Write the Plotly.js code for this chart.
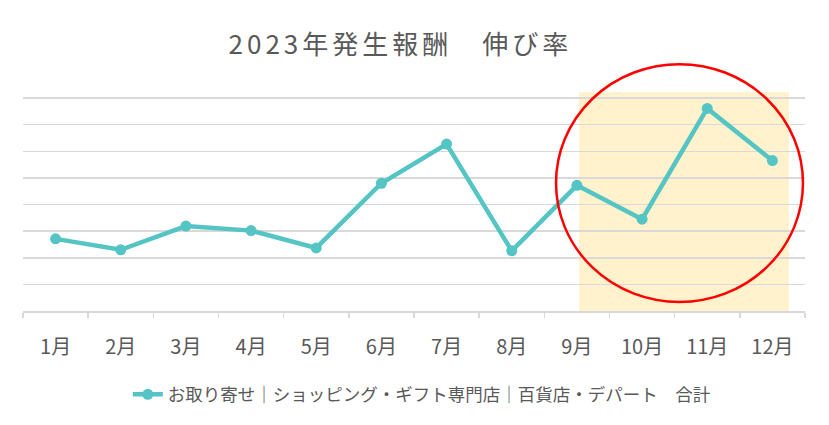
<!DOCTYPE html>
<html>
<head>
<meta charset="utf-8">
<script src="https://cdn.plot.ly/plotly-3.0.1.min.js"></script>
<style>html,body{margin:0;padding:0;background:#fff}#plot{width:829px;height:425px}
.gtitle{letter-spacing:4px}</style>
</head>
<body>
<div id="plot"></div>
<script>
// 月ごとの伸び率（目盛りなしのため画像から読み取り）
var months = ["1月","2月","3月","4月","5月","6月","7月","8月","9月","10月","11月","12月"];
var growth = [2.71, 2.30, 3.19, 3.02, 2.37, 4.80, 6.27, 2.26, 4.72, 3.45, 7.61, 5.65];
var seriesName = "お取り寄せ｜ショッピング・ギフト専門店｜百貨店・デパート　合計";

var trace1 = {
  x: months,
  y: growth,
  name: seriesName,
  type: "scatter",
  mode: "lines+markers",
  line: {color: "#55C4C4", width: 4.5},
  marker: {color: "#55C4C4", size: 11},
  showlegend: true
};

var layout = {
  width: 829,
  height: 425,
  margin: {l: 23, r: 24, t: 97, b: 112},
  paper_bgcolor: "#fff",
  plot_bgcolor: "rgba(0,0,0,0)",
  font: {family: "'Noto Sans CJK JP', 'Noto Sans', sans-serif", color: "#595959", size: 16},
  title: {
    text: "2023年発生報酬　伸び率",
    x: 0.483, xanchor: "center",
    y: 0.894, yanchor: "middle",
    font: {size: 26, color: "#595959"}
  },
  xaxis: {
    type: "category",
    range: [-0.5, 11.5],
    showgrid: false,
    showline: true,
    linecolor: "#d9d9d9",
    linewidth: 1.5,
    ticks: "outside",
    tickson: "boundaries",
    ticklen: 5,
    tickcolor: "#d9d9d9",
    tickwidth: 1.5,
    ticklabelstandoff: 17,
    tickfont: {size: 20, color: "#595959"},
    fixedrange: true
  },
  yaxis: {
    range: [0, 8.04],
    dtick: 1,
    showticklabels: false,
    showgrid: true,
    gridcolor: "#d9d9d9",
    gridwidth: 1.5,
    zeroline: false,
    showline: false,
    fixedrange: true
  },
  legend: {
    orientation: "h",
    x: 0.51, xanchor: "center",
    y: -0.39, yanchor: "middle",
    font: {size: 17.5, color: "#595959"}
  },
  shapes: [
    // 9月〜12月のハイライト
    {type: "rect", xref: "paper", yref: "paper", x0: 0.711, x1: 0.9795, y0: 0, y1: 1.023,
     fillcolor: "#FFF2CC", line: {width: 0}, layer: "below"},
    // 赤丸
    {type: "circle", xref: "paper", yref: "paper", x0: 0.6816, x1: 0.9974, y0: 0.042, y1: 1.1535,
     line: {color: "#FF0000", width: 2.5}, layer: "above"}
  ]
};

Plotly.newPlot("plot", [trace1], layout, {displayModeBar: false, staticPlot: true});
</script>
</body>
</html>
